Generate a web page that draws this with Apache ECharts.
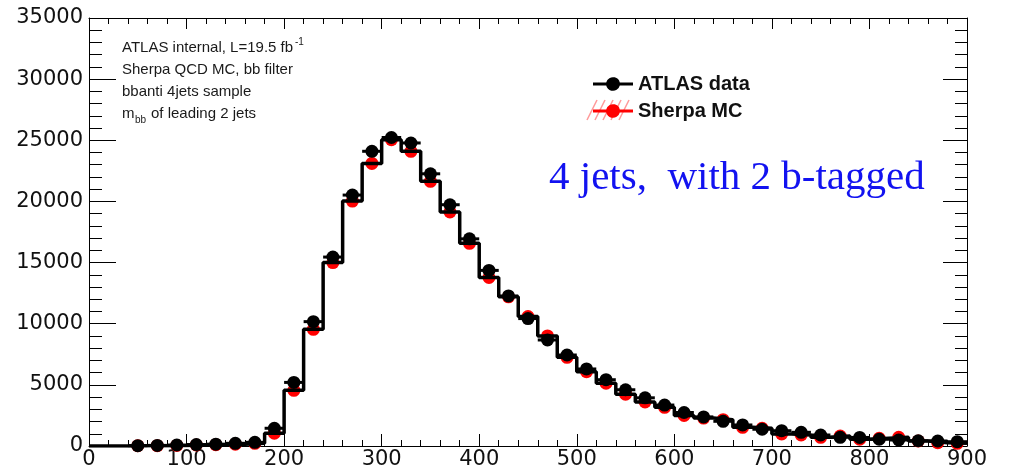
<!DOCTYPE html>
<html>
<head>
<meta charset="utf-8">
<script src="https://cdn.jsdelivr.net/npm/echarts@6/dist/echarts.min.js"></script>
<style>
  html, body { margin: 0; padding: 0; background: #fff; }
  #chart { width: 1009px; height: 473px; }
</style>
</head>
<body>
<div id="chart"></div>
<script>
// m_bb of the leading two jets, 20 GeV bins from 0 to 900
const binCenters = [10, 30, 50, 70, 90, 110, 130, 150, 170, 190,
                    210, 230, 250, 270, 290, 310, 330, 350, 370, 390,
                    410, 430, 450, 470, 490, 510, 530, 550, 570, 590,
                    610, 630, 650, 670, 690, 710, 730, 750, 770, 790,
                    810, 830, 850, 870, 890];
const binWidth = 20;

// ATLAS data, events per bin
const dataCounts = [0, 0, 30, 50, 80, 120, 150, 220, 300, 1450,
                    5200, 10170, 15450, 20520, 24100, 25230, 24780, 22260, 19730, 16940,
                    14360, 12270, 10420, 8670, 7440, 6300, 5420, 4600, 3940, 3350,
                    2740, 2380, 2020, 1720, 1370, 1250, 1120, 900, 710, 700,
                    550, 490, 430, 410, 350];

// Sherpa QCD MC, events per bin
const mcCounts = [0, 0, 20, 30, 50, 80, 110, 150, 220, 1050,
                  4550, 9540, 15000, 20030, 23110, 25050, 24100, 21640, 19140, 16570,
                  13780, 12200, 10580, 9000, 7250, 6080, 5130, 4240, 3600, 3160,
                  2500, 2280, 2150, 1530, 1450, 980, 900, 710, 820, 550,
                  630, 710, 410, 270, 220];

const xTicks = [0, 100, 200, 300, 400, 500, 600, 700, 800, 900];
const yTicks = [0, 5000, 10000, 15000, 20000, 25000, 30000, 35000];

const infoLines = ['ATLAS internal, L=19.5 fb', 'Sherpa QCD MC, bb filter', 'bbanti 4jets sample'];

// histogram outline: one point per left bin edge, stepped to the next edge
const stepPoints = binCenters.map((c, i) => [c - binWidth / 2, mcCounts[i]]);
stepPoints.push([binCenters[binCenters.length - 1] + binWidth / 2, mcCounts[mcCounts.length - 1]]);

const dataPoints = binCenters.map((c, i) => [c, dataCounts[i]]).filter(p => p[1] > 0);
const mcPoints = binCenters.map((c, i) => [c, mcCounts[i]]).filter(p => p[1] > 0);

const labelFont = { fontFamily: 'DejaVu Sans', fontSize: 21, color: '#111' };
const plain = v => String(v);
const legendIcon = 'path://M0,5.5H13.2A7,7,0,0,1,26.8,5.5H40V8.5H26.8A7,7,0,0,1,13.2,8.5H0Z';
const smallFont = '15px "Liberation Sans", Arial, sans-serif';

const chart = echarts.init(document.getElementById('chart'), null, { renderer: 'canvas' });

const axisLine = { show: true, onZero: false, lineStyle: { color: '#000', width: 1 } };

// light red hatching behind the MC legend key
const hatch = [];
for (let k = 0; k < 5; k++) {
  hatch.push({
    type: 'line', z: 1,
    shape: { x1: 587 + k * 8, y1: 120, x2: 597 + k * 8, y2: 100 },
    style: { stroke: '#ff9a9a', lineWidth: 1.5 }
  });
}

const infoText = infoLines.map((t, i) => ({
  type: 'text', left: 122, top: 40 + i * 22,
  style: { text: t, font: smallFont, fill: '#1a1a1a' }
}));

option = {
  animation: false,
  backgroundColor: '#fff',
  grid: { left: 89, top: 18, width: 878, height: 428, containLabel: false, outerBoundsMode: 'none' },
  xAxis: [
    {
      type: 'value', min: xTicks[0], max: xTicks[xTicks.length - 1], interval: 100,
      axisLine: axisLine,
      axisTick: { show: true, inside: true, length: 12, lineStyle: { color: '#000' } },
      minorTick: { show: true, splitNumber: 5, length: 6, lineStyle: { color: '#000' } },
      splitLine: { show: false },
      axisLabel: Object.assign({ margin: 3, showMinLabel: true, showMaxLabel: true, formatter: plain }, labelFont)
    },
    {
      type: 'value', position: 'top', min: xTicks[0], max: xTicks[xTicks.length - 1], interval: 100,
      axisLine: axisLine,
      axisTick: { show: true, inside: true, length: 11, lineStyle: { color: '#000' } },
      minorTick: { show: true, splitNumber: 5, length: 6, lineStyle: { color: '#000' } },
      splitLine: { show: false },
      axisLabel: { show: false }
    }
  ],
  yAxis: [
    {
      type: 'value', min: yTicks[0], max: yTicks[yTicks.length - 1], interval: 5000,
      axisLine: axisLine,
      axisTick: { show: true, inside: true, length: 27, lineStyle: { color: '#000' } },
      minorTick: { show: true, splitNumber: 5, length: 13, lineStyle: { color: '#000' } },
      splitLine: { show: false },
      axisLabel: Object.assign({ margin: 6, showMinLabel: true, showMaxLabel: true, formatter: plain }, labelFont)
    },
    {
      type: 'value', position: 'right', min: yTicks[0], max: yTicks[yTicks.length - 1], interval: 5000,
      axisLine: axisLine,
      axisTick: { show: true, inside: true, length: 24, lineStyle: { color: '#000' } },
      minorTick: { show: true, splitNumber: 5, length: 12, lineStyle: { color: '#000' } },
      splitLine: { show: false },
      axisLabel: { show: false }
    }
  ],
  legend: {
    orient: 'vertical', left: 588, top: 69, itemGap: 7,
    itemWidth: 40, itemHeight: 14, z: 5,
    selectedMode: false,
    data: [
      { name: 'ATLAS data', icon: legendIcon, itemStyle: { color: '#000', opacity: 1 } },
      { name: 'Sherpa MC', icon: legendIcon, itemStyle: { color: '#ff0000', opacity: 1 } }
    ],
    textStyle: { fontFamily: '"Liberation Sans", Arial, sans-serif', fontSize: 20, fontWeight: 'bold', color: '#111' }
  },
  graphic: [
    ...hatch,
    ...infoText,
    { type: 'text', left: 295, top: 37, style: { text: '-1', font: '10px "Liberation Sans", Arial, sans-serif', fill: '#1a1a1a' } },
    { type: 'text', left: 122, top: 106, style: { text: 'm', font: smallFont, fill: '#1a1a1a' } },
    { type: 'text', left: 135, top: 115, style: { text: 'bb', font: '10px "Liberation Sans", Arial, sans-serif', fill: '#1a1a1a' } },
    { type: 'text', left: 151, top: 106, style: { text: 'of leading 2 jets', font: smallFont, fill: '#1a1a1a' } },
    { type: 'text', left: 549, top: 158, style: { text: '4 jets,  with 2 b-tagged', font: '41px "Liberation Serif", "Times New Roman", serif', fill: '#1212f0' } }
  ],
  series: [
    {
      name: 'Sherpa MC', type: 'scatter', data: mcPoints,
      symbol: 'circle', symbolSize: 13,
      itemStyle: { color: '#ff0000', opacity: 1 }, z: 2
    },
    {
      name: 'MC outline', type: 'line', data: stepPoints, step: 'end',
      showSymbol: false, symbol: 'none',
      lineStyle: { color: '#000', width: 3.5 }, z: 3
    },
    {
      name: 'data x-range', type: 'custom', data: dataPoints, z: 4,
      renderItem: function (params, api) {
        const x = api.value(0), v = api.value(1);
        const a = api.coord([x - binWidth / 2, v]);
        const b = api.coord([x + binWidth / 2, v]);
        return { type: 'line', shape: { x1: a[0], y1: a[1], x2: b[0], y2: b[1] }, style: { stroke: '#000', lineWidth: 3 } };
      }
    },
    {
      name: 'ATLAS data', type: 'scatter', data: dataPoints,
      symbol: 'circle', symbolSize: 13,
      itemStyle: { color: '#000', opacity: 1 }, z: 5
    }
  ]
};

chart.setOption(option);
</script>
</body>
</html>
